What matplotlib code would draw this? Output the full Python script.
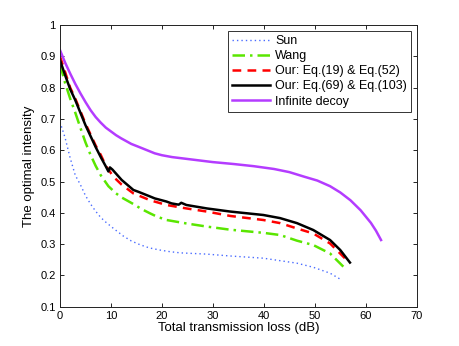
import matplotlib
matplotlib.use("Agg")
import matplotlib.pyplot as plt

plt.rcParams['font.family'] = ['Liberation Sans', 'DejaVu Sans']

# Sun (blue dotted)
sun_x = [0, 1, 2, 3, 4, 5, 6, 7, 8, 9, 10.5, 12.4, 14, 15.7, 17.5, 19.6, 21.5, 23.6, 28.8, 33.4, 39.9, 43.2, 46.5, 49.7, 53.0, 55.3]
sun_y = [0.69, 0.64, 0.575, 0.52, 0.49, 0.455, 0.428, 0.405, 0.385, 0.37, 0.35, 0.326, 0.31, 0.298, 0.288, 0.281, 0.276, 0.272, 0.268, 0.262, 0.255, 0.247, 0.239, 0.226, 0.207, 0.185]

# Wang (green dash-dot)
wang_x = [0, 1, 2, 3, 4, 5, 6, 7, 8, 9.5, 11, 12.1, 14.4, 16, 17.7, 19, 20.9, 24.8, 28.8, 33.4, 39.9, 43.2, 46.5, 49.7, 53.0, 55.6]
wang_y = [0.875, 0.815, 0.765, 0.72, 0.672, 0.625, 0.585, 0.55, 0.52, 0.485, 0.462, 0.449, 0.428, 0.412, 0.398, 0.388, 0.377, 0.366, 0.356, 0.346, 0.336, 0.329, 0.311, 0.297, 0.27, 0.228]

# Our: Eq.(19) & Eq.(52) (red dashed)
red_x = [0, 1, 2, 3, 4, 5, 6, 7, 8, 9, 10.5, 12.1, 14.4, 17.7, 20.9, 24.8, 28.8, 33.4, 39.9, 43.2, 46.5, 49.7, 53.0, 55.9]
red_y = [0.90, 0.85, 0.80, 0.765, 0.725, 0.685, 0.65, 0.615, 0.585, 0.55, 0.515, 0.49, 0.462, 0.44, 0.425, 0.414, 0.404, 0.39, 0.377, 0.367, 0.35, 0.334, 0.302, 0.255]

# Our: Eq.(69) & Eq.(103) (black solid)
blk_x = [0, 1, 2, 3, 4, 5, 6, 7, 8, 9, 9.5, 9.8, 10.3, 12.1, 14.4, 15.4, 17.7, 18.6, 20.9, 21.9, 23.3, 23.8, 24.8, 28.8, 33.4, 39.9, 43.2, 46.5, 49.7, 53.0, 55.0, 56.9]
blk_y = [0.888, 0.84, 0.795, 0.76, 0.72, 0.68, 0.645, 0.61, 0.578, 0.548, 0.532, 0.545, 0.538, 0.505, 0.473, 0.467, 0.452, 0.446, 0.436, 0.43, 0.426, 0.432, 0.425, 0.414, 0.404, 0.393, 0.383, 0.367, 0.345, 0.313, 0.281, 0.241]

# Infinite decoy (purple)
inf_x = [0, 1, 2, 3, 4, 5, 6, 7, 8, 9, 10, 11, 12, 14, 15.4, 18.6, 20, 22, 24, 27, 30, 34, 38, 42, 45, 48, 50.5, 53, 55, 57, 59, 61, 62, 63]
inf_y = [0.92, 0.88, 0.845, 0.812, 0.782, 0.754, 0.728, 0.706, 0.688, 0.672, 0.66, 0.648, 0.638, 0.62, 0.611, 0.59, 0.584, 0.578, 0.574, 0.568, 0.562, 0.556, 0.549, 0.54, 0.53, 0.515, 0.503, 0.485, 0.465, 0.44, 0.408, 0.368, 0.343, 0.313]

labels = ['Sun', 'Wang', 'Our: Eq.(19) & Eq.(52)', 'Our: Eq.(69) & Eq.(103)', 'Infinite decoy']
xticks = [0, 10, 20, 30, 40, 50, 60, 70]
yticks = [0.1, 0.2, 0.3, 0.4, 0.5, 0.6, 0.7, 0.8, 0.9, 1.0]

fig = plt.figure(figsize=(4.6, 3.46), dpi=100)
ax = fig.add_axes([0.1304, 0.1136, 0.7755, 0.8141])

ax.plot(sun_x, sun_y, linestyle=(0, (1, 2.2)), color='#4a6cff', linewidth=1.0, label=labels[0])
ax.plot(wang_x, wang_y, linestyle=(0, (5, 2, 1, 2)), color='#5ae600', linewidth=1.8, label=labels[1])
ax.plot(red_x, red_y, linestyle=(0, (3.5, 2.5)), color='#ff0000', linewidth=1.8, label=labels[2])
ax.plot(blk_x, blk_y, linestyle='-', color='black', linewidth=1.8, label=labels[3])
ax.plot(inf_x, inf_y, linestyle='-', color='#b43cff', linewidth=1.8, label=labels[4])

ax.set_xlim(0, 70)
ax.set_ylim(0.1, 1.0)
ax.set_xticks(xticks)
ax.set_yticks(yticks)
ax.set_xticklabels([str(t) for t in xticks])
ax.set_yticklabels(['0.1', '0.2', '0.3', '0.4', '0.5', '0.6', '0.7', '0.8', '0.9', '1'])
ax.tick_params(direction='in', top=True, right=True, labelsize=8, length=3, width=0.6, pad=3)
for s in ax.spines.values():
    s.set_linewidth(0.7)
    s.set_color('#222222')

ax.set_xlabel('Total transmission loss (dB)', fontsize=9.5, labelpad=1)
ax.set_ylabel('The optimal intensity', fontsize=9.5, labelpad=4)

leg = ax.legend(loc='upper right', fontsize=9, frameon=True, fancybox=False,
                edgecolor='black', borderpad=0.35, labelspacing=0.25, handlelength=3.0,
                handletextpad=0.4, borderaxespad=0.45)
leg.get_frame().set_linewidth(0.7)

fig.savefig('out.png', dpi=100)
